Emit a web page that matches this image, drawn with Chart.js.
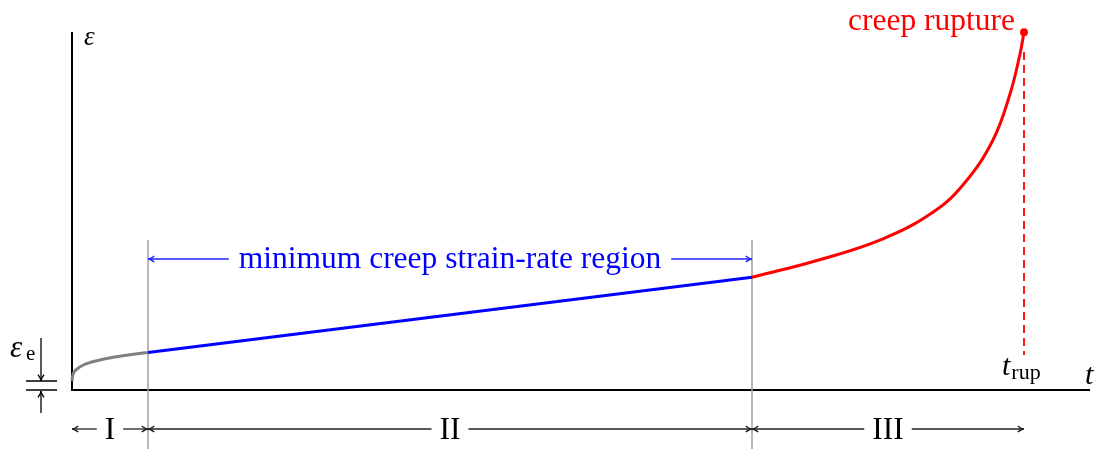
<!DOCTYPE html>
<html>
<head>
<meta charset="utf-8">
<script src="https://cdn.jsdelivr.net/npm/chart.js@4.4.1/dist/chart.umd.min.js"></script>
<style>
  html, body { margin: 0; padding: 0; background: #fff; }
  #wrap { width: 1107px; height: 449px; position: relative; }
</style>
</head>
<body>
<div id="wrap"><canvas id="c"></canvas></div>
<script>
// ---- data (t in time units, eps in strain units) ----
const primaryT   = [0, 0.4, 1.3, 4.7, 11.3, 28, 44.7, 61.3, 76];
const primaryEps = [9, 13, 16.5, 20.7, 25, 30, 33.3, 35.8, 37.5];

const secondaryT   = [76, 680];
const secondaryEps = [37.5, 112.7];

const tertiaryT   = [680, 745, 811, 862, 893, 921, 938, 948, 952];
const tertiaryEps = [112.7, 129.5, 151.2, 178.5, 207.5, 250, 296, 336, 357.7];

const tRup = 952;
const epsRup = 357.7;
const epsElastic = 9;
const rupDashEps = [338, 35];

const phaseBounds = [0, 76, 680, 952];
const phaseLabels = ['I', 'II', 'III'];
const regionLabel = 'minimum creep strain-rate region';
const rupLabel = 'creep rupture';
const guideEps = [150, -59];

const xMax = 1018, yMax = 358;

function pts(xs, ys) { return xs.map((x, i) => ({ x: x, y: ys[i] })); }

const SERIF = '"Liberation Serif", "Times New Roman", serif';

function arrowHead(ctx, x, y, ang, size) {
  const a = 0.45;
  ctx.beginPath();
  ctx.moveTo(x - size * Math.cos(ang - a), y - size * Math.sin(ang - a));
  ctx.quadraticCurveTo(x - size * 0.3 * Math.cos(ang), y - size * 0.3 * Math.sin(ang), x, y);
  ctx.quadraticCurveTo(x - size * 0.3 * Math.cos(ang), y - size * 0.3 * Math.sin(ang),
                       x - size * Math.cos(ang + a), y - size * Math.sin(ang + a));
  ctx.stroke();
}

function arrow(ctx, x1, y1, x2, y2, head) {
  ctx.beginPath(); ctx.moveTo(x1, y1); ctx.lineTo(x2, y2); ctx.stroke();
  arrowHead(ctx, x2, y2, Math.atan2(y2 - y1, x2 - x1), head || 7);
}

function dimArrow(ctx, a, b, py, text, font, color, gap) {
  ctx.font = font;
  const w = ctx.measureText(text).width;
  const mid = (a + b) / 2;
  ctx.strokeStyle = color; ctx.fillStyle = color;
  arrow(ctx, mid - w / 2 - gap, py, a, py, 7);
  arrow(ctx, mid + w / 2 + gap, py, b, py, 7);
}

const annot = {
  id: 'annot',
  beforeDatasetsDraw(chart) {
    const ctx = chart.ctx, xs = chart.scales.x, ys = chart.scales.y;
    ctx.save();
    ctx.strokeStyle = '#000'; ctx.lineWidth = 2;
    ctx.beginPath();
    ctx.moveTo(xs.getPixelForValue(0), ys.getPixelForValue(yMax));
    ctx.lineTo(xs.getPixelForValue(0), ys.getPixelForValue(0));
    ctx.lineTo(xs.getPixelForValue(xMax), ys.getPixelForValue(0));
    ctx.stroke();
    ctx.restore();
  },
  afterDatasetsDraw(chart) {
    const ctx = chart.ctx, xs = chart.scales.x, ys = chart.scales.y;
    const X = v => xs.getPixelForValue(v), Y = v => ys.getPixelForValue(v);
    ctx.save();
    ctx.lineCap = 'butt';

    // axis labels
    ctx.fillStyle = '#000';
    ctx.textAlign = 'left'; ctx.textBaseline = 'alphabetic';
    ctx.font = 'italic 27px ' + SERIF;
    ctx.fillText('ε', X(0) + 12, Y(yMax) + 13);
    ctx.font = 'italic 30px ' + SERIF;
    ctx.fillText('t', X(xMax) - 5, Y(0) - 6);

    // t_rup label
    ctx.font = 'italic 30px ' + SERIF;
    const tx = X(tRup) - 22;
    ctx.fillText('t', tx, Y(0) - 15);
    const tw = ctx.measureText('t').width;
    ctx.font = '22px ' + SERIF;
    ctx.fillText('rup', tx + tw + 1, Y(0) - 11);

    // elastic strain marker
    ctx.strokeStyle = '#000'; ctx.lineWidth = 1.6;
    ctx.beginPath();
    ctx.moveTo(X(-46), Y(epsElastic)); ctx.lineTo(X(-15), Y(epsElastic));
    ctx.moveTo(X(-46), Y(0)); ctx.lineTo(X(-15), Y(0));
    ctx.stroke();
    ctx.lineWidth = 1.3;
    arrow(ctx, X(-31), Y(epsElastic + 43), X(-31), Y(epsElastic), 7);
    arrow(ctx, X(-31), Y(-23), X(-31), Y(0) + 1, 7);
    ctx.fillStyle = '#000';
    ctx.font = 'italic 31px ' + SERIF;
    ctx.fillText('ε', X(-62), Y(0) - 33);
    ctx.font = '21px ' + SERIF;
    ctx.fillText('e', X(-46), Y(0) - 30);

    // phase arrows at bottom
    const py = Y(-39);
    const romanFont = '31.5px ' + SERIF;
    ctx.lineWidth = 1.3;
    for (let i = 0; i < phaseLabels.length; i++) {
      const a = X(phaseBounds[i]), b = X(phaseBounds[i + 1]);
      dimArrow(ctx, a, b, py, phaseLabels[i], romanFont, '#222', 8);
      ctx.fillStyle = '#000';
      ctx.font = romanFont;
      ctx.textAlign = 'center';
      ctx.fillText(phaseLabels[i], (a + b) / 2, py + 9.5);
    }

    // region arrow (blue)
    const ry = Y(131);
    const regFont = '31.5px ' + SERIF;
    ctx.lineWidth = 1.3;
    dimArrow(ctx, X(phaseBounds[1]), X(phaseBounds[2]), ry, regionLabel, regFont, '#2020ff', 10);
    ctx.fillStyle = '#0000ff';
    ctx.font = regFont;
    ctx.textAlign = 'center';
    ctx.fillText(regionLabel, (X(phaseBounds[1]) + X(phaseBounds[2])) / 2, ry + 9);

    // rupture label
    ctx.fillStyle = '#ff0000';
    ctx.textAlign = 'right';
    ctx.fillText(rupLabel, X(tRup) - 9, Y(epsRup) - 2);

    ctx.restore();
  }
};

const ds = [
  { data: pts(primaryT, primaryEps), borderColor: '#808080', borderWidth: 3, cubicInterpolationMode: 'monotone' },
  { data: pts(secondaryT, secondaryEps), borderColor: '#0000ff', borderWidth: 3 },
  { data: pts(tertiaryT, tertiaryEps), borderColor: '#ff0000', borderWidth: 3, tension: 0.4 },
  { data: [{ x: tRup, y: epsRup }], borderColor: '#ff0000', pointRadius: 4, pointBackgroundColor: '#ff0000', pointBorderWidth: 0, showLine: false },
  { data: [{ x: tRup, y: rupDashEps[0] }, { x: tRup, y: rupDashEps[1] }], borderColor: '#ff0000', borderWidth: 1.8, borderDash: [8, 5] },
  { data: [{ x: phaseBounds[1], y: guideEps[0] }, { x: phaseBounds[1], y: guideEps[1] }], borderColor: '#a0a0a0', borderWidth: 1.5 },
  { data: [{ x: phaseBounds[2], y: guideEps[0] }, { x: phaseBounds[2], y: guideEps[1] }], borderColor: '#a0a0a0', borderWidth: 1.5 }
].map(d => Object.assign({ pointRadius: 0, fill: false, clip: false, tension: 0 }, d));

new Chart(document.getElementById('c'), {
  type: 'line',
  data: { datasets: ds },
  options: {
    responsive: true,
    maintainAspectRatio: false,
    animation: false,
    events: [],
    layout: { padding: { left: 72, right: 17, top: 32, bottom: 59 } },
    plugins: { legend: { display: false }, tooltip: { enabled: false } },
    scales: {
      x: { type: 'linear', min: 0, max: xMax, display: false },
      y: { type: 'linear', min: 0, max: yMax, display: false }
    }
  },
  plugins: [annot]
});
</script>
</body>
</html>
